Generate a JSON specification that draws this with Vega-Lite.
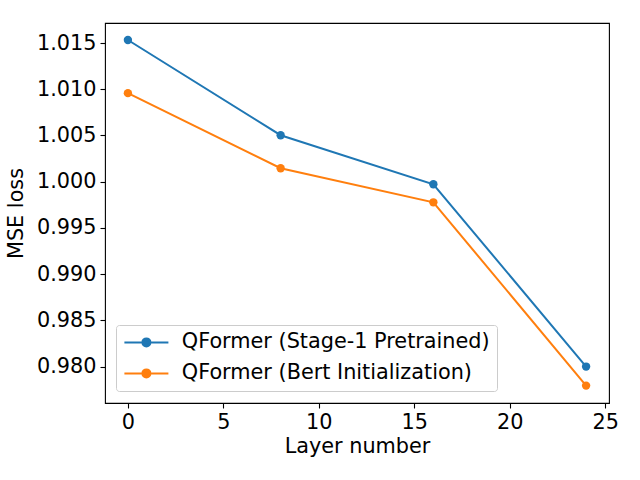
{
  "$schema": "https://vega.github.io/schema/vega-lite/v6.json",
  "width": 504,
  "height": 380,
  "autosize": "none",
  "padding": {"left": 105, "top": 23, "right": 31, "bottom": 77},
  "background": "white",
  "config": {
    "font": "DejaVu Sans",
    "view": {"stroke": "black", "strokeWidth": 1.1},
    "axis": {
      "grid": false,
      "domain": false,
      "tickColor": "black",
      "tickWidth": 1.1,
      "tickSize": 5,
      "labelPadding": 4,
      "labelFontSize": 20.8,
      "labelColor": "black",
      "labelFont": "DejaVu Sans",
      "titleFontSize": 20.8,
      "titleFont": "DejaVu Sans",
      "titleFontWeight": "normal",
      "titleColor": "black"
    }
  },
  "data": {
    "values": [
      {"layer": 0, "loss": 1.01533, "series": "QFormer (Stage-1 Pretrained)"},
      {"layer": 8, "loss": 1.00503, "series": "QFormer (Stage-1 Pretrained)"},
      {"layer": 16, "loss": 0.99972, "series": "QFormer (Stage-1 Pretrained)"},
      {"layer": 24, "loss": 0.98000, "series": "QFormer (Stage-1 Pretrained)"},
      {"layer": 0, "loss": 1.00958, "series": "QFormer (Bert Initialization)"},
      {"layer": 8, "loss": 1.00146, "series": "QFormer (Bert Initialization)"},
      {"layer": 16, "loss": 0.99777, "series": "QFormer (Bert Initialization)"},
      {"layer": 24, "loss": 0.97794, "series": "QFormer (Bert Initialization)"}
    ]
  },
  "encoding": {
    "x": {
      "field": "layer",
      "type": "quantitative",
      "scale": {"domain": [-1.2, 25.2], "nice": false, "zero": false},
      "axis": {"values": [0, 5, 10, 15, 20, 25], "format": "d", "title": "Layer number", "titlePadding": 5}
    },
    "y": {
      "field": "loss",
      "type": "quantitative",
      "scale": {"domain": [0.97606, 1.01717], "nice": false, "zero": false},
      "axis": {"values": [0.980, 0.985, 0.990, 0.995, 1.000, 1.005, 1.010, 1.015], "format": ".3f", "title": "MSE loss", "titlePadding": 10}
    },
    "color": {
      "field": "series",
      "type": "nominal",
      "sort": ["QFormer (Stage-1 Pretrained)", "QFormer (Bert Initialization)"],
      "scale": {"domain": ["QFormer (Stage-1 Pretrained)", "QFormer (Bert Initialization)"], "range": ["#1f77b4", "#ff7f0e"]},
      "legend": {
        "title": null,
        "orient": "none",
        "legendX": 11,
        "legendY": 302,
        "labelFontSize": 20.8,
        "labelFont": "DejaVu Sans",
        "labelColor": "black",
        "labelLimit": 500,
        "labelOffset": 25,
        "symbolOffset": 13,
        "symbolType": "M-4.4,0L4.4,0M-0.8,0A0.8,0.8 0 1,0 0.8,0A0.8,0.8 0 1,0 -0.8,0Z",
        "symbolSize": 100,
        "symbolStrokeWidth": 2,
        "rowPadding": 9,
        "padding": 7,
        "strokeColor": "#cccccc",
        "fillColor": "rgba(255,255,255,0.8)",
        "cornerRadius": 3,
        "encode": {
          "symbols": {
            "update": {
              "fill": {"scale": "color", "field": "value"},
              "stroke": {"scale": "color", "field": "value"},
              "fillOpacity": {"value": 1},
              "strokeOpacity": {"value": 1}
            }
          }
        }
      }
    }
  },
  "layer": [
    {"mark": {"type": "line", "strokeWidth": 2}},
    {"mark": {"type": "point", "filled": true, "size": 70, "opacity": 1, "shape": "circle"}}
  ]
}
